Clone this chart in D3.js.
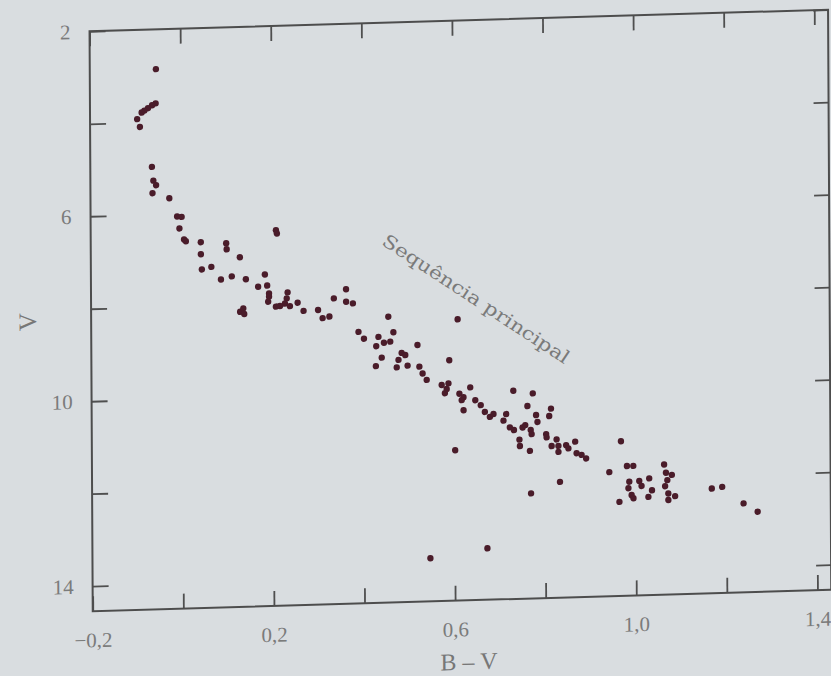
<!DOCTYPE html>
<html>
<head>
<meta charset="utf-8">
<script src="https://cdn.jsdelivr.net/npm/d3@7"></script>
<style>
  body { margin: 0; background: #d9dde0; }
  svg { display: block; }
</style>
</head>
<body>
<div id="chart"></div>
<script>
// B-V colour index of each star
const bv = [
  -0.054, -0.055, -0.063, -0.072, -0.080, -0.086, -0.096, -0.090, -0.064, -0.061,
  -0.055, -0.063, -0.026, -0.009, 0.001, -0.004, 0.006, 0.010, 0.043, 0.043,
  0.045, 0.066, 0.099, 0.100, 0.129, 0.209, 0.211, 0.087, 0.111, 0.142,
  0.184, 0.169, 0.189, 0.193, 0.193, 0.191, 0.129, 0.136, 0.138, 0.234,
  0.232, 0.228, 0.217, 0.208, 0.239, 0.256, 0.269, 0.301, 0.311, 0.326,
  0.336, 0.363, 0.363, 0.378, 0.390, 0.402, 0.456, 0.609, 0.434, 0.429,
  0.446, 0.460, 0.467, 0.520, 0.441, 0.428, 0.485, 0.493, 0.478, 0.474,
  0.498, 0.524, 0.531, 0.540, 0.590, 0.573, 0.588, 0.580, 0.584, 0.612,
  0.621, 0.617, 0.621, 0.636, 0.647, 0.659, 0.668, 0.679, 0.687, 0.602,
  0.731, 0.774, 0.762, 0.715, 0.709, 0.723, 0.732, 0.751, 0.757, 0.781,
  0.784, 0.814, 0.810, 0.769, 0.771, 0.744, 0.745, 0.767, 0.803, 0.804,
  0.815, 0.826, 0.830, 0.830, 0.847, 0.852, 0.867, 0.870, 0.881, 0.891,
  0.968, 0.981, 0.995, 0.942, 1.063, 0.986, 0.984, 0.991, 0.995, 1.008,
  1.013, 1.030, 1.036, 1.028, 1.067, 1.080, 1.070, 1.065, 0.964, 1.072,
  1.087, 1.072, 1.168, 1.191, 1.238, 1.269, 0.833, 0.769, 0.672, 0.546
];
// apparent magnitude V
const vmag = [
  2.86, 3.60, 3.64, 3.70, 3.75, 3.79, 3.93, 4.10, 4.97, 5.27,
  5.37, 5.54, 5.66, 6.06, 6.07, 6.32, 6.56, 6.60, 6.63, 6.89,
  7.22, 7.17, 6.67, 6.80, 6.98, 6.42, 6.49, 7.45, 7.39, 7.46,
  7.37, 7.63, 7.61, 7.78, 7.85, 7.96, 8.16, 8.09, 8.21, 7.77,
  7.90, 8.01, 8.06, 8.07, 8.07, 8.00, 8.18, 8.17, 8.35, 8.32,
  7.93, 7.74, 8.01, 8.05, 8.67, 8.82, 8.36, 8.46, 8.79, 8.99,
  8.92, 8.90, 8.70, 8.99, 9.24, 9.42, 9.15, 9.20, 9.30, 9.46,
  9.43, 9.46, 9.61, 9.75, 9.34, 9.87, 9.84, 10.05, 9.96, 10.07,
  10.15, 10.21, 10.43, 9.94, 10.22, 10.33, 10.48, 10.59, 10.53, 11.29,
  10.04, 10.11, 10.38, 10.54, 10.68, 10.83, 10.89, 10.84, 10.79, 10.58,
  10.73, 10.45, 10.61, 10.90, 10.99, 11.10, 11.24, 11.35, 11.00, 11.07,
  11.26, 11.12, 11.26, 11.39, 11.25, 11.32, 11.18, 11.43, 11.47, 11.55,
  11.20, 11.74, 11.74, 11.86, 11.73, 12.08, 12.22, 12.37, 12.44, 12.07,
  12.18, 12.02, 12.28, 12.42, 11.91, 11.96, 12.07, 12.20, 12.51, 12.36,
  12.42, 12.50, 12.28, 12.25, 12.62, 12.81, 12.04, 12.27, 13.43, 13.61
];

const xTicks = [-0.2, 0, 0.2, 0.4, 0.6, 0.8, 1.0, 1.2, 1.4];
const xLabeled = [-0.2, 0.2, 0.6, 1.0, 1.4];
const yTicks = [2, 4, 6, 8, 10, 12, 14];
const yLabeled = [2, 6, 10, 14];
const xTitle = "B – V";
const yTitle = "V";
const noteText = "Sequência principal";
const notePos = [0.65, 8.03];

const WIDTH = 738.5;
const HEIGHT = 580;

const svg = d3.select("#chart").append("svg")
  .attr("width", 831)
  .attr("height", 676);

svg.append("rect")
  .attr("width", 831)
  .attr("height", 676)
  .attr("fill", "#d9dde0");

// the printed page is photographed a little skewed
const g = svg.append("g")
  .attr("transform", "matrix(1,-0.02925,0.005517,1,89.55,31.3)");

const x = d3.scaleLinear().domain([-0.2, 1.4305]).range([0, WIDTH]);
const y = d3.scaleLinear().domain([2, 14.543]).range([0, HEIGHT]);

const fmtX = d => xLabeled.includes(d) ? d.toFixed(1).replace(".", ",").replace("-", "\u2212") : "";
const fmtY = d => yLabeled.includes(d) ? d : "";

function styleAxis(sel) {
  sel.select(".domain").remove();
  sel.selectAll(".tick line").attr("stroke", "#4f4f4f").attr("stroke-width", 1.8);
  sel.selectAll(".tick text")
    .attr("fill", "#7b7b7b")
    .attr("font-family", "Liberation Serif, serif")
    .attr("font-size", 21);
}

g.append("g")
  .attr("transform", `translate(0, ${HEIGHT})`)
  .call(d3.axisBottom(x).tickValues(xTicks).tickSizeInner(-15).tickSizeOuter(0).tickPadding(21).tickFormat(fmtX))
  .call(styleAxis);

g.append("g")
  .call(d3.axisTop(x).tickValues(xTicks).tickSizeInner(-15).tickSizeOuter(0).tickFormat(() => ""))
  .call(styleAxis);

g.append("g")
  .call(d3.axisLeft(y).tickValues(yTicks).tickSizeInner(-16).tickSizeOuter(0).tickPadding(19).tickFormat(fmtY))
  .call(styleAxis);

g.append("g")
  .attr("transform", `translate(${WIDTH}, 0)`)
  .call(d3.axisRight(y).tickValues(yTicks).tickSizeInner(-15).tickSizeOuter(0).tickFormat(() => ""))
  .call(styleAxis);

// frame
g.append("rect")
  .attr("width", WIDTH)
  .attr("height", HEIGHT)
  .attr("fill", "none")
  .attr("stroke", "#4d4d4d")
  .attr("stroke-width", 2);

// stars
g.selectAll("circle.star")
  .data(d3.zip(bv, vmag))
  .join("circle")
  .attr("class", "star")
  .attr("cx", d => x(d[0]))
  .attr("cy", d => y(d[1]))
  .attr("r", 3.2)
  .attr("fill", "#4a1c2a");

// main sequence label
g.append("text")
  .attr("transform", `translate(${x(notePos[0])}, ${y(notePos[1])}) rotate(34.5)`)
  .attr("text-anchor", "middle")
  .attr("dy", "0.35em")
  .attr("font-family", "DejaVu Serif, serif")
  .attr("font-size", 18)
  .attr("textLength", 222)
  .attr("lengthAdjust", "spacingAndGlyphs")
  .attr("fill", "#7a7a7a")
  .text(noteText);

// axis titles
g.append("text")
  .attr("x", WIDTH * 0.509)
  .attr("y", HEIGHT + 61)
  .attr("dy", "0.35em")
  .attr("text-anchor", "middle")
  .attr("font-family", "Liberation Serif, serif")
  .attr("font-size", 24)
  .attr("fill", "#777")
  .text(xTitle);

g.append("text")
  .attr("transform", `translate(-64, ${HEIGHT * 0.498}) rotate(-90)`)
  .attr("dy", "0.35em")
  .attr("text-anchor", "middle")
  .attr("font-family", "Liberation Serif, serif")
  .attr("font-size", 25)
  .attr("fill", "#777")
  .text(yTitle);
</script>
</body>
</html>
